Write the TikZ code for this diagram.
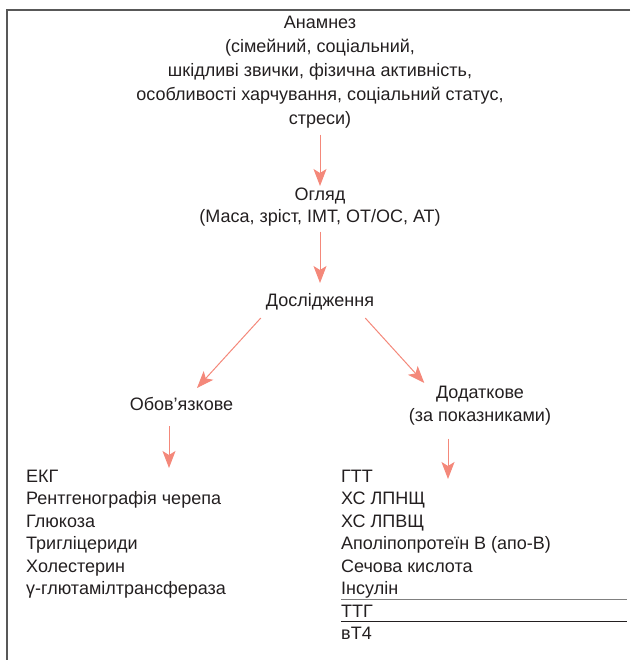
\documentclass[tikz,border=0pt]{standalone}
\usepackage{fontspec}
\setmainfont{Liberation Sans}
\usetikzlibrary{positioning,arrows.meta}
\definecolor{arrowsalmon}{RGB}{244,136,122}
\definecolor{framegray}{RGB}{88,88,88}
\definecolor{textgray}{RGB}{35,31,32}
\begin{document}
\begin{tikzpicture}
[x=1pt,y=-1pt,
  textnode/.style={align=center,inner sep=0pt,text=textgray,font=\fontsize{18}{24}\selectfont},%
  itemnode/.style={anchor=base west,inner sep=0pt,text=textgray,font=\fontsize{18}{22}\selectfont},%
  arrowline/.style={-{Stealth[length=17pt,width=13pt,inset=4pt]},draw=arrowsalmon,line width=1pt},%
  framedecorate/.style={draw=framegray,line width=1.6pt}]
\useasboundingbox (0,0) rectangle (630,660);
% frame
\draw[framedecorate] (630,10) -- (7,10) -- (7,660);
% steps
\node (anamnez) at (320,16) [textnode,anchor=north] {Анамнез\\(сімейний, соціальний,\\шкідливі звички, фізична активність,\\особливості харчування, соціальний статус,\\стреси)};
\node (ohliad) at (320,188) [textnode,anchor=north] {Огляд\\[-2pt](Маса, зріст, ІМТ, ОТ/ОС, АТ)};
\node (doslid) at (320,293) [textnode,anchor=north] {Дослідження};
\node (obov) at (181.5,397) [textnode,anchor=north] {Обов’язкове};
\node (dodat) at (480,386) [textnode,anchor=north] {Додаткове\\[-1.3pt](за показниками)};
% obligatory list
\node (obl1) at (26,482) [itemnode] {ЕКГ};
\node (obl2) at (26,504.5) [itemnode] {Рентгенографія черепа};
\node (obl3) at (26,527) [itemnode] {Глюкоза};
\node (obl4) at (26,549.5) [itemnode] {Тригліцериди};
\node (obl5) at (26,572) [itemnode] {Холестерин};
\node (obl6) at (26,594.5) [itemnode] {γ-глютамілтрансфераза};
% additional list
\node (dod1) at (341,482) [itemnode] {ГТТ};
\node (dod2) at (341,504.5) [itemnode] {ХС ЛПНЩ};
\node (dod3) at (341,527) [itemnode] {ХС ЛПВЩ};
\node (dod4) at (341,549.5) [itemnode] {Аполіпопротеїн В (апо-В)};
\node (dod5) at (341,572) [itemnode] {Сечова кислота};
\node (dod6) at (341,594.5) [itemnode] {Інсулін};
\node (dod7) at (341,617) [itemnode] {ТТГ};
\node (dod8) at (341,639.5) [itemnode] {вТ4};
\coordinate (obovend) at (169,468);
\coordinate (dodatend) at (448,479);
% arrows
\draw[arrowline,shorten <=6pt,shorten >=2pt] (anamnez) -- (ohliad);
\draw[arrowline,shorten <=5pt,shorten >=10pt] (ohliad) -- (doslid);
\draw[arrowline] ([shift={(-5pt,-8pt)}]doslid.south west) -- ([shift={(15.5pt,9pt)}]obov.north);
\draw[arrowline] ([shift={(-9pt,-8pt)}]doslid.south east) -- ([shift={(15.5pt,3pt)}]dodat.north west);
\draw[arrowline] ([shift={(-12.5pt,-15.5pt)}]obov.south) -- (obovend);
\draw[arrowline] ([shift={(-32pt,-13.5pt)}]dodat.south) -- (dodatend);
% rules
\draw[gray,line width=1pt] ([yshift=-5pt]dod6.base west) -- +(286,0);
\draw[textgray,line width=1pt] ([yshift=-4pt]dod7.base west) -- +(286,0);
\end{tikzpicture}
\end{document}
